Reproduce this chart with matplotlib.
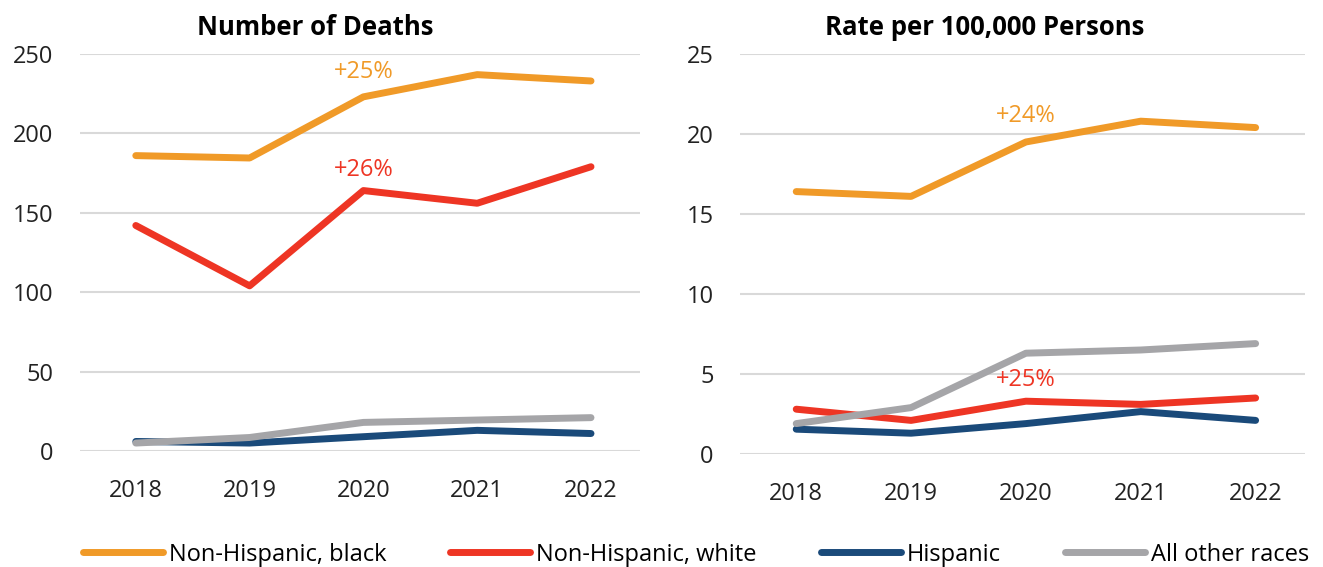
import matplotlib
matplotlib.use('Agg')
import matplotlib.pyplot as plt

plt.rcParams['font.family'] = ['Open Sans', 'DejaVu Sans']

years = ['2018', '2019', '2020', '2021', '2022']
series_names = ['Non-Hispanic, black', 'Non-Hispanic, white', 'Hispanic', 'All other races']
colors = ['#F09A28', '#EE3524', '#1A4A7A', '#A5A5A8']

deaths_black = [186, 184.5, 223, 237, 233]
deaths_white = [142, 104, 164, 156, 179]
deaths_hisp = [6, 5, 9, 13, 11]
deaths_other = [5, 8.5, 18, 19.5, 21]

rate_black = [16.4, 16.1, 19.5, 20.8, 20.4]
rate_white = [2.8, 2.1, 3.3, 3.1, 3.5]
rate_hisp = [1.55, 1.3, 1.9, 2.65, 2.1]
rate_other = [1.9, 2.9, 6.3, 6.5, 6.9]

# (x index, y, text, colour index)
deaths_notes = [(2, 238.5, '+25%', 0), (2, 177, '+26%', 1)]
rate_notes = [(2, 21.1, '+24%', 0), (2, 4.6, '+25%', 1)]

fig = plt.figure(figsize=(13.23, 5.67), dpi=100)
ax1 = fig.add_axes([0.0605, 0.2046, 0.4232, 0.7002])
ax2 = fig.add_axes([0.5593, 0.1993, 0.4271, 0.7055])

panels = [
    (ax1, 'Number of Deaths', [deaths_black, deaths_white, deaths_hisp, deaths_other],
     250, [0, 50, 100, 150, 200, 250], deaths_notes, 0.42),
    (ax2, 'Rate per 100,000 Persons', [rate_black, rate_white, rate_hisp, rate_other],
     25, [0, 5, 10, 15, 20, 25], rate_notes, 0.434),
]

x = range(len(years))
for ax, title, data, ymax, ticks, notes, tx in panels:
    for vals, c, name in zip(data, colors, series_names):
        ax.plot(x, vals, color=c, lw=5, solid_capstyle='round', solid_joinstyle='round',
                label=name, clip_on=False, zorder=3)
    ax.set_ylim(0, ymax)
    ax.set_yticks(ticks)
    ax.set_xlim(-0.49, 4.43)
    ax.set_xticks(list(x))
    ax.set_xticklabels(years)
    ax.grid(axis='y', color='#D9D9D9', lw=1.5)
    ax.set_axisbelow(True)
    for s in ax.spines.values():
        s.set_visible(False)
    ax.tick_params(axis='both', length=0, labelsize=17, colors='#222222')
    ax.tick_params(axis='y', pad=19)
    ax.tick_params(axis='x', pad=20)
    ax.set_title(title, fontsize=18.5, fontweight='bold', x=tx, pad=14)
    for xi, yi, txt, ci in notes:
        ax.text(xi, yi, txt, color=colors[ci], fontsize=17, ha='center', va='center')

handles, labels = ax1.get_legend_handles_labels()
fig.legend(handles, labels, loc='center', bbox_to_anchor=(0.526, 0.022), ncol=4,
           frameon=False, fontsize=17, handlelength=3.4, handletextpad=0.25,
           columnspacing=2.7)

fig.savefig('out.png', dpi=100)
